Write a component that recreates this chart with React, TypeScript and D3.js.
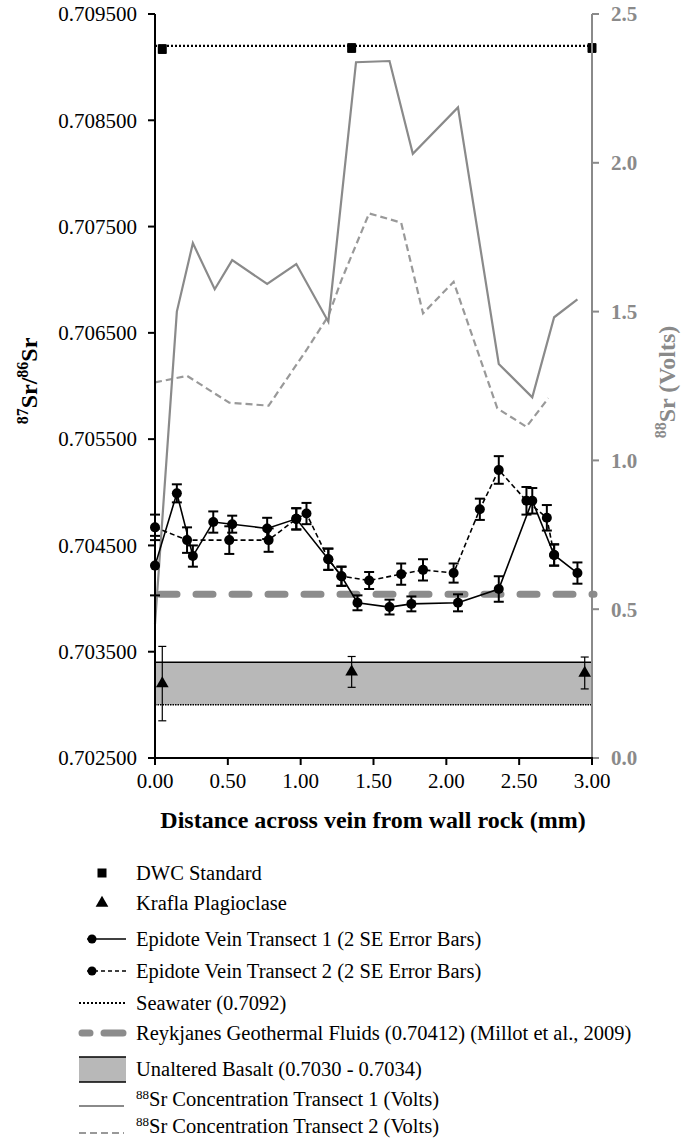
import React from "react";
import * as d3 from "d3";

// ---------- data ----------
const xTicks = [0, 0.5, 1.0, 1.5, 2.0, 2.5, 3.0];
const leftTicks = [0.7025, 0.7035, 0.7045, 0.7055, 0.7065, 0.7075, 0.7085, 0.7095];
const rightTicks = [0, 0.5, 1.0, 1.5, 2.0, 2.5];

const t1X = [0, 0.15, 0.26, 0.40, 0.53, 0.77, 0.97, 1.19, 1.28, 1.39, 1.61, 1.76, 2.08, 2.36, 2.59, 2.74, 2.90];
const t1R = [0.70431, 0.70499, 0.70440, 0.70472, 0.70470, 0.70466, 0.70475, 0.70437, 0.70421, 0.70396, 0.70392, 0.70395, 0.70396, 0.70409, 0.70492, 0.70441, 0.70424];
const t1E = [0.00028, 0.000085, 0.0001, 0.0001, 0.00008, 0.0001, 0.0001, 0.0001, 0.00009, 0.00007, 0.00007, 0.00007, 0.00008, 0.00012, 0.00012, 0.0001, 0.0001];

const t2X = [0, 0.22, 0.51, 0.78, 0.97, 1.04, 1.19, 1.28, 1.47, 1.69, 1.84, 2.05, 2.23, 2.36, 2.55, 2.69, 2.74];
const t2R = [0.70467, 0.70455, 0.70455, 0.70455, 0.70475, 0.70480, 0.70437, 0.70421, 0.70417, 0.70423, 0.70427, 0.70424, 0.70484, 0.70521, 0.70492, 0.70476, 0.70441];
const t2E = [0.00012, 0.00012, 0.00013, 0.00011, 0.0001, 0.0001, 0.0001, 0.00009, 0.00008, 0.0001, 0.0001, 0.00009, 0.0001, 0.00013, 0.00013, 0.00012, 0.0001];

const dwcX = [0.05, 1.35, 3.0];
const dwcR = [0.70917, 0.70918, 0.70918];
const dwcE = [0.00004, 0.00004, 0.00004];

const kraflaX = [0.05, 1.35, 2.95];
const kraflaR = [0.70320, 0.70331, 0.70330];
const kraflaE = [0.00035, 0.000145, 0.00015];

const sr1X = [0, 0.15, 0.26, 0.41, 0.53, 0.77, 0.97, 1.19, 1.38, 1.61, 1.77, 2.08, 2.36, 2.59, 2.74, 2.90];
const sr1V = [0.45, 1.50, 1.73, 1.575, 1.673, 1.593, 1.66, 1.466, 2.338, 2.342, 2.03, 2.186, 1.324, 1.212, 1.481, 1.541];

const sr2X = [0, 0.22, 0.51, 0.78, 1.04, 1.19, 1.28, 1.47, 1.69, 1.84, 2.05, 2.35, 2.55, 2.70];
const sr2V = [1.262, 1.284, 1.194, 1.184, 1.371, 1.485, 1.606, 1.83, 1.799, 1.494, 1.60, 1.175, 1.113, 1.209];

const seawater = 0.7092;
const reykjanes = 0.70404;
const basaltLow = 0.7030;
const basaltHigh = 0.7034;

const legendLabels = [
  "DWC Standard",
  "Krafla Plagioclase",
  "Epidote Vein Transect 1 (2 SE Error Bars)",
  "Epidote Vein Transect 2 (2 SE Error Bars)",
  "Seawater (0.7092)",
  "Reykjanes Geothermal Fluids (0.70412) (Millot et al., 2009)",
  "Unaltered Basalt (0.7030 - 0.7034)",
  "Sr Concentration Transect 1 (Volts)",
  "Sr Concentration Transect 2 (Volts)",
];

// ---------- layout ----------
const W = 686;
const H = 1146;
const FONT = "'Liberation Serif', Tinos, 'Times New Roman', 'DejaVu Serif', serif";
const GRAY = "#8a8a8a";
const GRAY2 = "#999999";

const x = d3.scaleLinear().domain([0, 3]).range([155, 592]);
const yL = d3.scaleLinear().domain([0.7025, 0.7095]).range([758, 14]);
const yR = d3.scaleLinear().domain([0, 2.5]).range([758, 14]);

const fL = d3.format(".6f");
const fR = d3.format(".1f");
const fX = d3.format(".2f");

function ErrorBars({ xs, ys, es, cap = 5, sw = 2 }) {
  return (
    <g stroke="#000" strokeWidth={sw} fill="none">
      {xs.map((v, i) => {
        const cx = x(v);
        const y1 = yL(ys[i] + es[i]);
        const y2 = yL(ys[i] - es[i]);
        return (
          <g key={i}>
            <line x1={cx} x2={cx} y1={y1} y2={y2} />
            <line x1={cx - cap} x2={cx + cap} y1={y1} y2={y1} />
            <line x1={cx - cap} x2={cx + cap} y1={y2} y2={y2} />
          </g>
        );
      })}
    </g>
  );
}

export default function App() {
  const pathT = (xs: number[], ys: number[]) =>
    d3.line<number>().x((_, i) => x(xs[i])).y((d) => yL(d))(ys) || "";
  const pathR = (xs: number[], ys: number[]) =>
    d3.line<number>().x((_, i) => x(xs[i])).y((d) => yR(d))(ys) || "";

  const tri = d3.symbol().type(d3.symbolTriangle).size(70)() || "";

  const legY = [873, 903, 939, 971, 1003, 1033, 1069, 1106, 1133];
  const lx0 = 79;
  const lx1 = 126;
  const lcx = 102;
  const textX = 136;

  return (
    <svg
      width={W}
      height={H}
      style={{ position: "absolute", left: 0, top: 0, background: "#fff", fontFamily: FONT }}
    >
      <rect x={0} y={0} width={W} height={H} fill="#fff" />

      {/* Unaltered basalt band */}
      <rect
        x={x(0)}
        y={yL(basaltHigh)}
        width={x(3) - x(0)}
        height={yL(basaltLow) - yL(basaltHigh)}
        fill="#b8b8b8"
      />
      <line x1={x(0)} x2={x(3)} y1={yL(basaltHigh)} y2={yL(basaltHigh)} stroke="#000" strokeWidth={1.5} />
      <line x1={x(0)} x2={x(3)} y1={yL(basaltLow)} y2={yL(basaltLow)} stroke="#000" strokeWidth={1.5} strokeDasharray="1.5 1" />

      {/* Seawater */}
      <line x1={x(0)} x2={x(3)} y1={yL(seawater)} y2={yL(seawater)} stroke="#000" strokeWidth={2.2} strokeDasharray="2 2" />

      {/* 88Sr lines (right axis) */}
      <path d={pathR(sr2X, sr2V)} fill="none" stroke={GRAY2} strokeWidth={2.2} strokeDasharray="7 4" />
      <path d={pathR(sr1X, sr1V)} fill="none" stroke={GRAY} strokeWidth={2.2} />

      {/* Reykjanes */}
      <line
        x1={x(0) + 5}
        x2={x(3) + 2}
        y1={yL(reykjanes)}
        y2={yL(reykjanes)}
        stroke="#8c8c8c"
        strokeWidth={7}
        strokeLinecap="round"
        strokeDasharray="17 19"
      />

      {/* Transects */}
      <path d={pathT(t2X, t2R)} fill="none" stroke="#000" strokeWidth={1.6} strokeDasharray="5 3" />
      <path d={pathT(t1X, t1R)} fill="none" stroke="#000" strokeWidth={1.6} />
      <ErrorBars xs={t1X} ys={t1R} es={t1E} />
      <ErrorBars xs={t2X} ys={t2R} es={t2E} />
      <ErrorBars xs={dwcX} ys={dwcR} es={dwcE} cap={4} sw={1.2} />
      <ErrorBars xs={kraflaX} ys={kraflaR} es={kraflaE} cap={4} sw={1.2} />
      {t1X.map((v, i) => (
        <circle key={"a" + i} cx={x(v)} cy={yL(t1R[i])} r={5} fill="#000" />
      ))}
      {t2X.map((v, i) => (
        <circle key={"b" + i} cx={x(v)} cy={yL(t2R[i])} r={5} fill="#000" />
      ))}
      {dwcX.map((v, i) => (
        <rect key={"d" + i} x={x(v) - 4.5} y={yL(dwcR[i]) - 4.5} width={9} height={9} fill="#000" />
      ))}
      {kraflaX.map((v, i) => (
        <path key={"k" + i} d={tri} transform={`translate(${x(v)},${yL(kraflaR[i])})`} fill="#000" />
      ))}

      {/* Left axis */}
      <line x1={155} x2={155} y1={yL(0.7095)} y2={yL(0.7025)} stroke="#000" strokeWidth={2} />
      {leftTicks.map((t) => (
        <g key={t}>
          <line x1={148} x2={155} y1={yL(t)} y2={yL(t)} stroke="#000" strokeWidth={2} />
          <text x={137} y={yL(t)} dy="0.35em" textAnchor="end" fontSize={21} fill="#000">
            {fL(t)}
          </text>
        </g>
      ))}

      {/* Right axis */}
      <line x1={592} x2={592} y1={yR(2.5)} y2={yR(0)} stroke={GRAY} strokeWidth={2} />
      {rightTicks.map((t) => (
        <g key={t}>
          <line x1={592} x2={599} y1={yR(t)} y2={yR(t)} stroke={GRAY} strokeWidth={2} />
          <text x={611} y={yR(t)} dy="0.35em" fontSize={21} fontWeight="bold" fill={GRAY}>
            {fR(t)}
          </text>
        </g>
      ))}

      {/* X axis */}
      <line x1={154} x2={593} y1={758} y2={758} stroke="#000" strokeWidth={2} />
      {xTicks.map((t) => (
        <g key={t}>
          <line x1={x(t)} x2={x(t)} y1={758} y2={765} stroke="#000" strokeWidth={2} />
          <text x={x(t)} y={788} textAnchor="middle" fontSize={21} fill="#000">
            {fX(t)}
          </text>
        </g>
      ))}

      {/* Axis titles */}
      <text x={373} y={828} textAnchor="middle" fontSize={24} fontWeight="bold" fill="#000">
        Distance across vein from wall rock (mm)
      </text>
      <text transform="translate(37,381) rotate(-90)" textAnchor="middle" fontWeight="bold" fontSize={24} fill="#000">
        <tspan fontSize={16} dy={-9}>87</tspan>
        <tspan dy={9}>Sr/</tspan>
        <tspan fontSize={16} dy={-9}>86</tspan>
        <tspan dy={9}>Sr</tspan>
      </text>
      <text transform="translate(675,382) rotate(-90)" textAnchor="middle" fontWeight="bold" fontSize={24} fill={GRAY}>
        <tspan fontSize={16} dy={-9}>88</tspan>
        <tspan dy={9}>Sr (Volts)</tspan>
      </text>

      {/* Legend */}
      <g fontSize={20.5} fill="#000">
        <rect x={lcx - 4.5} y={legY[0] - 4.5} width={9} height={9} fill="#000" />
        <path d={tri} transform={`translate(${lcx},${legY[1]})`} fill="#000" />
        <line x1={lx0 + 8} x2={lx1} y1={legY[2]} y2={legY[2]} stroke="#000" strokeWidth={1.6} />
        <circle cx={lcx - 10} cy={legY[2]} r={4.5} fill="#000" />
        <line x1={lx0 + 8} x2={lx1} y1={legY[3]} y2={legY[3]} stroke="#000" strokeWidth={1.6} strokeDasharray="4 3" />
        <circle cx={lcx - 10} cy={legY[3]} r={4.5} fill="#000" />
        <line x1={lx0} x2={lx1} y1={legY[4]} y2={legY[4]} stroke="#000" strokeWidth={2.2} strokeDasharray="2 2" />
        <line x1={lx0 + 3} x2={lx1 - 3} y1={legY[5]} y2={legY[5]} stroke="#8c8c8c" strokeWidth={7} strokeLinecap="round" strokeDasharray="8 14 19 100" />
        <rect x={lx0} y={legY[6] - 12} width={lx1 - lx0} height={25} fill="#b8b8b8" />
        <line x1={lx0} x2={lx1} y1={legY[6] - 12} y2={legY[6] - 12} stroke="#000" strokeWidth={1.5} />
        <line x1={lx0} x2={lx1} y1={legY[6] + 13} y2={legY[6] + 13} stroke="#000" strokeWidth={1.5} />
        <line x1={lx0} x2={lx1 - 2} y1={legY[7]} y2={legY[7]} stroke={GRAY} strokeWidth={2.2} />
        <line x1={lx0} x2={lx1 - 2} y1={legY[8]} y2={legY[8]} stroke={GRAY2} strokeWidth={2.2} strokeDasharray="7 4" />
        {legendLabels.map((lab, i) => (
          <text key={i} x={textX} y={legY[i]} dy="0.35em">
            {i >= 7 ? (
              <>
                <tspan fontSize={13} dy={-7}>88</tspan>
                <tspan dy={7}>{lab}</tspan>
              </>
            ) : (
              lab
            )}
          </text>
        ))}
      </g>
    </svg>
  );
}
